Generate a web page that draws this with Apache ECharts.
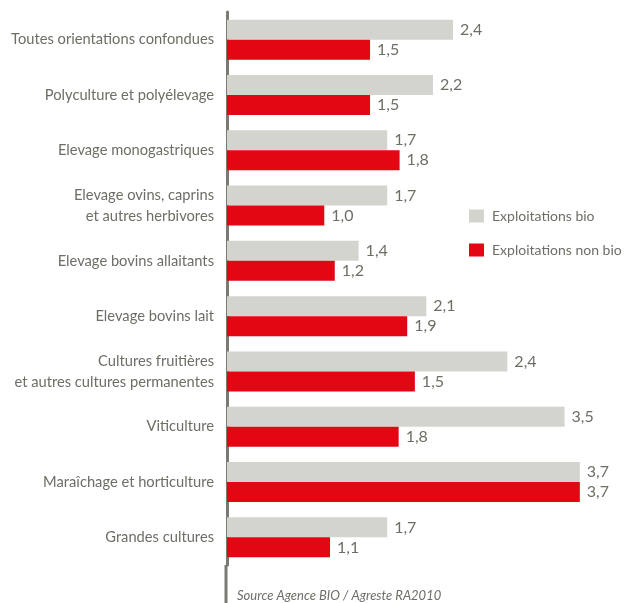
<!DOCTYPE html>
<html><head><meta charset="utf-8">
<script src="https://cdn.jsdelivr.net/npm/echarts@6/dist/echarts.min.js"></script>
<style>html,body{margin:0;padding:0;background:#fff}#c{width:625px;height:603px}</style>
</head><body><div id="c"></div>
<script>
const categories = [
  "Toutes orientations confondues",
  "Polyculture et polyélevage",
  "Elevage monogastriques",
  "Elevage ovins, caprins\net autres herbivores",
  "Elevage bovins allaitants",
  "Elevage bovins lait",
  "Cultures fruitières\net autres cultures permanentes",
  "Viticulture",
  "Maraîchage et horticulture",
  "Grandes cultures"
];
// bar lengths as drawn in the reference
const bio = [2.37, 2.16, 1.68, 1.68, 1.38, 2.09, 2.94, 3.54, 3.7, 1.68];
const nonBio = [1.5, 1.5, 1.81, 1.02, 1.13, 1.89, 1.97, 1.8, 3.7, 1.08];
// value labels as printed in the reference
const bioLabels = ["2,4", "2,2", "1,7", "1,7", "1,4", "2,1", "2,4", "3,5", "3,7", "1,7"];
const nonBioLabels = ["1,5", "1,5", "1,8", "1,0", "1,2", "1,9", "1,5", "1,8", "3,7", "1,1"];
const seriesNames = ["Exploitations bio", "Exploitations non bio"];
const sourceText = "Source Agence BIO / Agreste RA2010";

const FONT = "Lato";
const TXT = "#6e6e66";
const chart = echarts.init(document.getElementById('c'));
chart.setOption({
  animation: false,
  textStyle: { fontFamily: FONT },
  grid: { left: 227, top: 12, width: 370, height: 553, containLabel: false },
  xAxis: { type: 'value', min: 0, max: 3.88, show: false },
  yAxis: {
    type: 'category', data: categories, inverse: true,
    axisLine: { show: true, lineStyle: { color: '#7a7a72', width: 3 } },
    axisTick: { show: false },
    axisLabel: { color: TXT, fontSize: 14.7, fontFamily: FONT, margin: 13, lineHeight: 21, align: 'right' }
  },
  legend: {
    orient: 'vertical', left: 464, top: 204, itemWidth: 15, itemHeight: 13, itemGap: 20,
    icon: 'rect', textStyle: { color: TXT, fontSize: 14, fontFamily: FONT, padding: [0,0,0,3] },
    data: seriesNames
  },
  series: [
    { name: seriesNames[0], type: 'bar', data: bio, barWidth: 20, barGap: '0%',
      itemStyle: { color: '#d4d4cf' },
      label: { show: true, position: 'right', distance: 7, color: TXT, fontSize: 16, fontFamily: FONT, formatter: p => bioLabels[p.dataIndex] } },
    { name: seriesNames[1], type: 'bar', data: nonBio, barWidth: 20, barGap: '0%',
      itemStyle: { color: '#e30613' },
      label: { show: true, position: 'right', distance: 7, color: TXT, fontSize: 16, fontFamily: FONT, formatter: p => nonBioLabels[p.dataIndex] } }
  ],
  graphic: [
    { type: 'line', shape: { x1: 226, y1: 565, x2: 226, y2: 603 }, style: { stroke: '#7a7a72', lineWidth: 3 } },
    { type: 'text', left: 237, top: 589, style: { text: sourceText, fill: TXT, font: 'italic 13px ' + FONT } }
  ]
});
</script></body></html>
